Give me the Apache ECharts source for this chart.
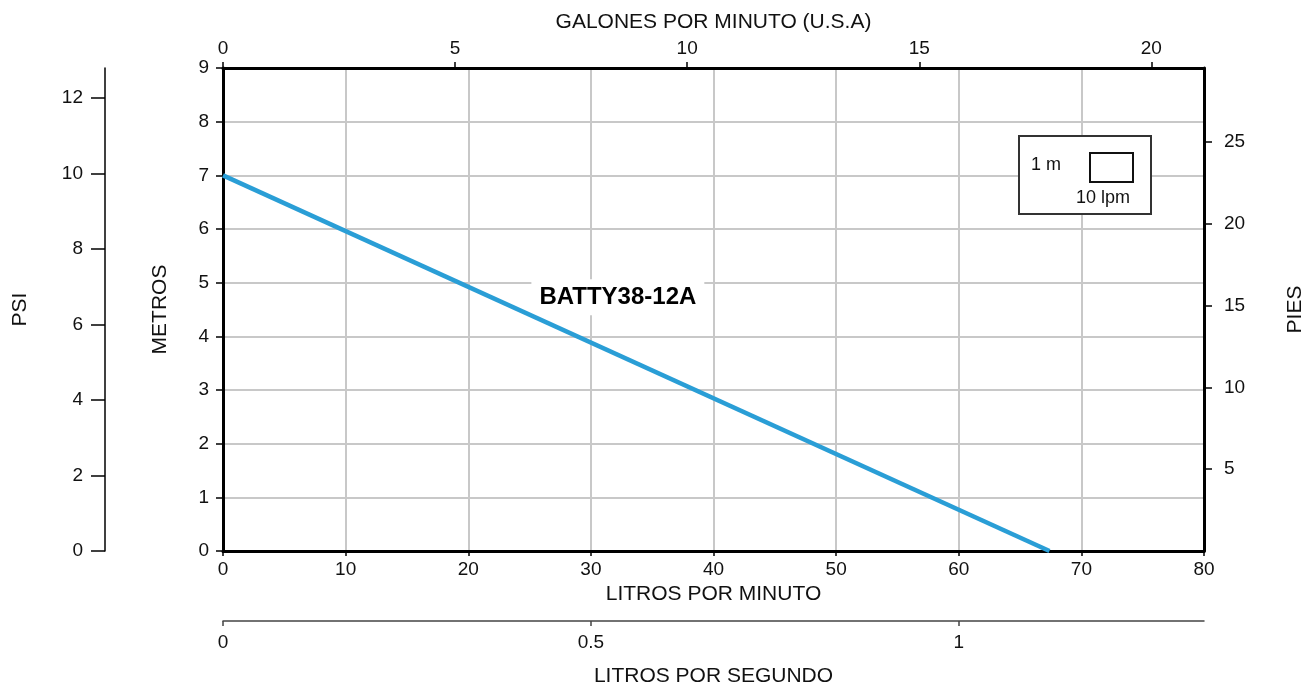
<!DOCTYPE html>
<html>
<head>
<meta charset="utf-8">
<script src="https://cdn.jsdelivr.net/npm/echarts@6/dist/echarts.min.js"></script>
<style>
html,body{margin:0;padding:0;background:#fff;}
#c{width:1307px;height:684px;}
</style>
</head>
<body>
<div id="c"></div>
<script>
// ---- data ----
const lpmTicks = [0, 10, 20, 30, 40, 50, 60, 70, 80];
const gpmTicks = [0, 5, 10, 15, 20];
const metrosTicks = [0, 1, 2, 3, 4, 5, 6, 7, 8, 9];
const piesTicks = [5, 10, 15, 20, 25];
const psiTicks = [0, 2, 4, 6, 8, 10, 12];
const lpsTicks = [0, 0.5, 1];
const curveLpm = [0, 67.4];
const curveMetros = [7.0, 0];
const curveName = 'BATTY38-12A';
const curveLabelPos = [32.2, 4.73];

// unit conversions
const LPM_PER_GPM = 3.78541;
const FT_PER_M = 3.28084;
const PSI_PER_M = 1.42197;
const lpmMax = 80, mMax = 9;

const F = 'Liberation Sans, Arial, sans-serif';
const txt = {color: '#111', fontFamily: F, fontSize: 19};
const nameTxt = {color: '#111', fontFamily: F, fontSize: 21};

const chart = echarts.init(document.getElementById('c'), null, {renderer: 'canvas'});
const option = {
  animation: false,
  backgroundColor: '#fff',
  grid: {left: 223, right: 103, top: 68, bottom: 133, containLabel: false, outerBoundsMode: 'none'},
  xAxis: [
    { // LPM bottom
      type: 'value', gridIndex: 0, position: 'bottom', min: 0, max: lpmMax, interval: 10,
      name: 'LITROS POR MINUTO', nameLocation: 'middle', nameGap: 32, nameTextStyle: nameTxt,
      axisLine: {show: true, onZero: false, lineStyle: {color: '#000', width: 3}},
      axisTick: {show: true, length: 5, lineStyle: {color: '#000', width: 1.5}},
      axisLabel: Object.assign({margin: 9}, txt),
      splitLine: {show: true, lineStyle: {color: '#c8c8c8', width: 2}}
    },
    { // GPM top
      type: 'value', gridIndex: 0, position: 'top', min: 0, max: lpmMax / LPM_PER_GPM,
      name: 'GALONES POR MINUTO (U.S.A)', nameLocation: 'middle', nameGap: 35, nameTextStyle: nameTxt,
      axisLine: {show: true, onZero: false, lineStyle: {color: '#000', width: 3}},
      axisTick: {show: true, length: 6, customValues: gpmTicks, lineStyle: {color: '#000', width: 1.5}},
      axisLabel: Object.assign({margin: 10, customValues: gpmTicks}, txt),
      splitLine: {show: false}
    },
    { // LPS bottom offset
      type: 'value', gridIndex: 0, position: 'bottom', offset: 70, min: 0, max: lpmMax / 60,
      name: 'LITROS POR SEGUNDO', nameLocation: 'middle', nameGap: 45, nameTextStyle: nameTxt,
      axisLine: {show: true, onZero: false, lineStyle: {color: '#444', width: 1.5}},
      axisTick: {show: true, length: 5, customValues: lpsTicks, lineStyle: {color: '#444', width: 1.5}},
      axisLabel: Object.assign({margin: 12, customValues: lpsTicks}, txt),
      splitLine: {show: false}
    }
  ],
  yAxis: [
    { // metros left
      type: 'value', gridIndex: 0, position: 'left', min: 0, max: mMax, interval: 1,
      name: 'METROS', nameLocation: 'middle', nameGap: 52, nameRotate: 90, nameTextStyle: nameTxt,
      axisLine: {show: true, onZero: false, lineStyle: {color: '#000', width: 3}},
      axisTick: {show: true, length: 7, lineStyle: {color: '#000', width: 1.5}},
      axisLabel: Object.assign({margin: 14}, txt),
      splitLine: {show: true, lineStyle: {color: '#c8c8c8', width: 2}}
    },
    { // pies right
      type: 'value', gridIndex: 0, position: 'right', min: 0, max: mMax * FT_PER_M,
      name: 'PIES', nameLocation: 'middle', nameGap: 81, nameRotate: 90, nameTextStyle: nameTxt,
      axisLine: {show: true, onZero: false, lineStyle: {color: '#000', width: 3}},
      axisTick: {show: true, length: 8, customValues: piesTicks, lineStyle: {color: '#000', width: 1.5}},
      axisLabel: Object.assign({margin: 20, customValues: piesTicks}, txt),
      splitLine: {show: false}
    },
    { // psi far left
      type: 'value', gridIndex: 0, position: 'left', offset: 118, min: 0, max: mMax * PSI_PER_M,
      name: 'PSI', nameLocation: 'middle', nameGap: 74, nameRotate: 90, nameTextStyle: nameTxt,
      axisLine: {show: true, onZero: false, lineStyle: {color: '#000', width: 1.5}},
      axisTick: {show: true, length: 14, customValues: psiTicks, lineStyle: {color: '#000', width: 1.5}},
      axisLabel: Object.assign({margin: 22, customValues: psiTicks}, txt),
      splitLine: {show: false}
    }
  ],
  series: [
    {
      type: 'line', xAxisIndex: 0, yAxisIndex: 0,
      data: curveLpm.map((x, i) => [x, curveMetros[i]]),
      showSymbol: false, symbol: 'none',
      lineStyle: {color: '#2a9ed6', width: 4.5}, z: 7
    },
    {
      type: 'scatter', xAxisIndex: 0, yAxisIndex: 0, symbolSize: 0, z: 6, silent: true,
      data: [{value: curveLabelPos, name: curveName}],
      label: {show: true, position: 'inside', formatter: '{b}', fontFamily: F, fontSize: 24,
        fontWeight: 'bold', color: '#000', opacity: 1, backgroundColor: '#fff', padding: [6, 8]}
    }
  ],
  graphic: [
    {type: 'rect', shape: {x: 1019, y: 136, width: 132, height: 78},
     style: {fill: '#fff', stroke: '#333', lineWidth: 2}, z: 10},
    {type: 'rect', shape: {x: 1090, y: 153, width: 43, height: 29},
     style: {fill: '#fff', stroke: '#111', lineWidth: 2}, z: 11},
    {type: 'text', x: 1031, y: 165, style: {text: '1 m', fontFamily: F, fontSize: 18, fill: '#111', textVerticalAlign: 'middle'}, z: 11},
    {type: 'text', x: 1076, y: 198, style: {text: '10 lpm', fontFamily: F, fontSize: 18, fill: '#111', textVerticalAlign: 'middle'}, z: 11}
  ]
};
chart.setOption(option);
</script>
</body>
</html>
